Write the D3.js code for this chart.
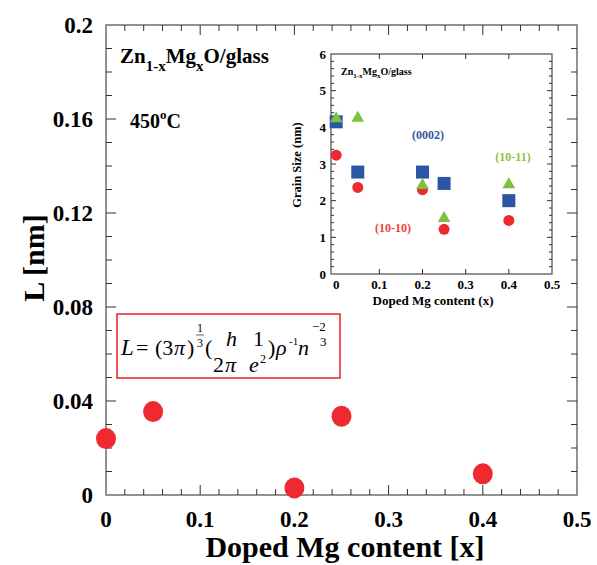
<!DOCTYPE html>
<html><head><meta charset="utf-8">
<script src="https://cdn.jsdelivr.net/npm/d3@7"></script>
<style>body{margin:0;background:#fff}svg{display:block}text{font-family:"Liberation Serif","Times New Roman",serif}</style>
</head><body>
<svg id="c" width="597" height="565"></svg>
<script>
// Main chart data
const mainX = [0, 0.05, 0.2, 0.25, 0.4];
const mainL = [0.024, 0.0355, 0.003, 0.0335, 0.009];
const mainXTicks = [0, 0.1, 0.2, 0.3, 0.4, 0.5];
const mainYTicks = [0, 0.04, 0.08, 0.12, 0.16, 0.2];
const mainYTickLabels = ["0", "0.04", "0.08", "0.12", "0.16", "0.2"];
// Inset data
const insetX = [0, 0.05, 0.2, 0.25, 0.4];
const g0002 = [4.15, 2.78, 2.78, 2.47, 2.0];
const g1010 = [3.24, 2.36, 2.3, 1.22, 1.46];
const g1011 = [4.24, 4.25, 2.42, 1.52, 2.44];
const insetXTicks = [0, 0.1, 0.2, 0.3, 0.4, 0.5];
const insetYTicks = [0, 1, 2, 3, 4, 5, 6];

const svg = d3.select("#c");
const RED = "#ee2a30", BLUE = "#2b56a6", GREEN = "#7cc142", FRAME = "#777";

// ---------- main chart ----------
const x = d3.scaleLinear().domain([0, 0.5]).range([106, 577]);
const y = d3.scaleLinear().domain([0, 0.2]).range([495, 25]);

function frameTicks(g, xs, ys, xMinor, yMinor, major, minor) {
  const [x0, x1] = xs.range(), [y0, y1] = ys.range();
  g.append("rect").attr("x", x0).attr("y", y1).attr("width", x1 - x0).attr("height", y0 - y1)
    .attr("fill", "none").attr("stroke", FRAME).attr("stroke-width", 1.6);
  xMinor.forEach(v => {
    const isMaj = Math.abs(Math.round(v * 10) - v * 10) < 1e-6;
    const l = isMaj ? major : minor;
    g.append("line").attr("x1", xs(v)).attr("x2", xs(v)).attr("y1", y0).attr("y2", y0 - l).attr("stroke", "#333").attr("stroke-width", 1);
    g.append("line").attr("x1", xs(v)).attr("x2", xs(v)).attr("y1", y1).attr("y2", y1 + l).attr("stroke", "#333").attr("stroke-width", 1);
  });
  yMinor.forEach(([v, isMaj]) => {
    const l = isMaj ? major : minor;
    g.append("line").attr("y1", ys(v)).attr("y2", ys(v)).attr("x1", x0).attr("x2", x0 + l).attr("stroke", "#333").attr("stroke-width", 1);
    g.append("line").attr("y1", ys(v)).attr("y2", ys(v)).attr("x1", x1).attr("x2", x1 - l).attr("stroke", "#333").attr("stroke-width", 1);
  });
}

const main = svg.append("g");
const mxMinor = d3.range(0, 26).map(i => i * 0.02).filter(v => v > 0.001 && v < 0.499);
const myMinor = d3.range(1, 20).map(i => [i * 0.01, i % 4 === 0]);
frameTicks(main, x, y, mxMinor, myMinor, 10, 6);

main.selectAll(".xt").data(mainXTicks).join("text")
  .attr("x", d => x(d)).attr("y", 527).attr("text-anchor", "middle")
  .attr("font-size", 23).attr("font-weight", "bold").text(d => d);
main.selectAll(".yt").data(mainYTicks).join("text")
  .attr("x", 93).attr("y", d => y(d) + 8).attr("text-anchor", "end")
  .attr("font-size", 23).attr("font-weight", "bold").text((d, i) => mainYTickLabels[i]);

main.append("text").attr("x", 345).attr("y", 557).attr("text-anchor", "middle")
  .attr("font-size", 30).attr("font-weight", "bold").text("Doped Mg content [x]");
main.append("text").attr("transform", "translate(44,258) rotate(-90)").attr("text-anchor", "middle")
  .attr("font-size", 30).attr("font-weight", "bold").text("L [nm]");

main.selectAll(".pt").data(mainX).join("ellipse")
  .attr("cx", d => x(d)).attr("cy", (d, i) => y(mainL[i])).attr("rx", 10).attr("ry", 10.5).attr("fill", RED);

// main annotations
const t1 = main.append("text").attr("x", 120).attr("y", 63).attr("font-size", 21).attr("font-weight", "bold");
t1.append("tspan").text("Zn");
t1.append("tspan").attr("font-size", 15).attr("dy", 8).text("1-x");
t1.append("tspan").attr("dy", -8).text("Mg");
t1.append("tspan").attr("font-size", 15).attr("dy", 8).text("x");
t1.append("tspan").attr("dy", -8).text("O/glass");
const t2 = main.append("text").attr("x", 130).attr("y", 128).attr("font-size", 20).attr("font-weight", "bold");
t2.append("tspan").text("450");
t2.append("tspan").attr("font-size", 13).attr("dy", -9).text("o");
t2.append("tspan").attr("dy", 9).text("C");

// formula box
const fb = main.append("g");
fb.append("rect").attr("x", 117).attr("y", 314).attr("width", 223).attr("height", 64)
  .attr("fill", "#fff").attr("stroke", RED).attr("stroke-width", 1.6);
function ft(xp, yp, s, size, italic) {
  fb.append("text").attr("x", xp).attr("y", yp).attr("font-size", size)
    .attr("font-style", italic ? "italic" : "normal").text(s);
}
ft(121, 355, "L", 23, true);
ft(136, 355, "=", 22, false);
ft(155, 355, "(3", 22, false);
ft(174, 355, "π", 22, true);
ft(187, 355, ")", 22, false);
ft(197, 332, "1", 12, false);
ft(197, 347, "3", 12, false);
fb.append("line").attr("x1", 196).attr("x2", 204).attr("y1", 335).attr("y2", 335).attr("stroke", "#000").attr("stroke-width", 0.6);
ft(205, 355, "(", 22, false);
ft(226, 346, "h", 22, true);
ft(213, 372, "2", 22, false);
ft(225, 372, "π", 22, true);
ft(253, 346, "1", 22, false);
ft(249, 372, "e", 22, true);
ft(260, 363, "2", 12, false);
ft(268, 355, ")", 22, false);
ft(276, 355, "ρ", 22, true);
ft(289, 345, "-1", 11, false);
ft(298, 355, "n", 22, true);
ft(312, 331, "−2", 13, false);
ft(320, 346, "3", 13, false);

// ---------- inset ----------
const ix = d3.scaleLinear().domain([-0.012, 0.5]).range([331, 552]);
const iy = d3.scaleLinear().domain([0, 6]).range([274, 54]);
const inset = svg.append("g");
const ixMinor = [0.1, 0.2, 0.3, 0.4];
const iyMinor = d3.range(1, 30).map(i => [i * 0.2, i % 5 === 0]);
frameTicks(inset, ix, iy, ixMinor, iyMinor, 5, 3);

inset.selectAll(".ixt").data(insetXTicks).join("text")
  .attr("x", d => ix(d)).attr("y", 289).attr("text-anchor", "middle")
  .attr("font-size", 13).attr("font-weight", "bold").text(d => d);
inset.selectAll(".iyt").data(insetYTicks).join("text")
  .attr("x", 326).attr("y", d => iy(d) + 4.5).attr("text-anchor", "end")
  .attr("font-size", 13).attr("font-weight", "bold").text(d => d);
inset.append("text").attr("x", 433).attr("y", 305).attr("text-anchor", "middle")
  .attr("font-size", 13).attr("font-weight", "bold").text("Doped Mg content (x)");
inset.append("text").attr("transform", "translate(301,165) rotate(-90)").attr("text-anchor", "middle")
  .attr("font-size", 12.5).attr("font-weight", "bold").text("Grain Size (nm)");

const t3 = inset.append("text").attr("x", 341).attr("y", 75).attr("font-size", 10).attr("font-weight", "bold");
t3.append("tspan").text("Zn");
t3.append("tspan").attr("font-size", 7).attr("dy", 3).text("1-x");
t3.append("tspan").attr("dy", -3).text("Mg");
t3.append("tspan").attr("font-size", 7).attr("dy", 3).text("x");
t3.append("tspan").attr("dy", -3).text("O/glass");

// markers
const sym = d3.symbol().type(d3.symbolTriangle).size(70);
inset.selectAll(".sq").data(insetX).join("rect")
  .attr("x", d => ix(d) - 6.5).attr("y", (d, i) => iy(g0002[i]) - 6.5).attr("width", 13).attr("height", 13).attr("fill", BLUE);
inset.selectAll(".ci").data(insetX).join("circle")
  .attr("cx", d => ix(d)).attr("cy", (d, i) => iy(g1010[i])).attr("r", 5.5).attr("fill", RED);
inset.selectAll(".tr").data(insetX).join("path")
  .attr("d", sym).attr("transform", (d, i) => `translate(${ix(d)},${iy(g1011[i])})`).attr("fill", GREEN);

inset.append("text").attr("x", 428).attr("y", 139).attr("text-anchor", "middle").attr("font-size", 12)
  .attr("font-weight", "bold").attr("fill", "#3c55a6").text("(0002)");
inset.append("text").attr("x", 513).attr("y", 161).attr("text-anchor", "middle").attr("font-size", 12)
  .attr("font-weight", "bold").attr("fill", "#8cc63f").text("(10-11)");
inset.append("text").attr("x", 393).attr("y", 232).attr("text-anchor", "middle").attr("font-size", 12)
  .attr("font-weight", "bold").attr("fill", "#ee4040").text("(10-10)");
</script>
</body></html>
